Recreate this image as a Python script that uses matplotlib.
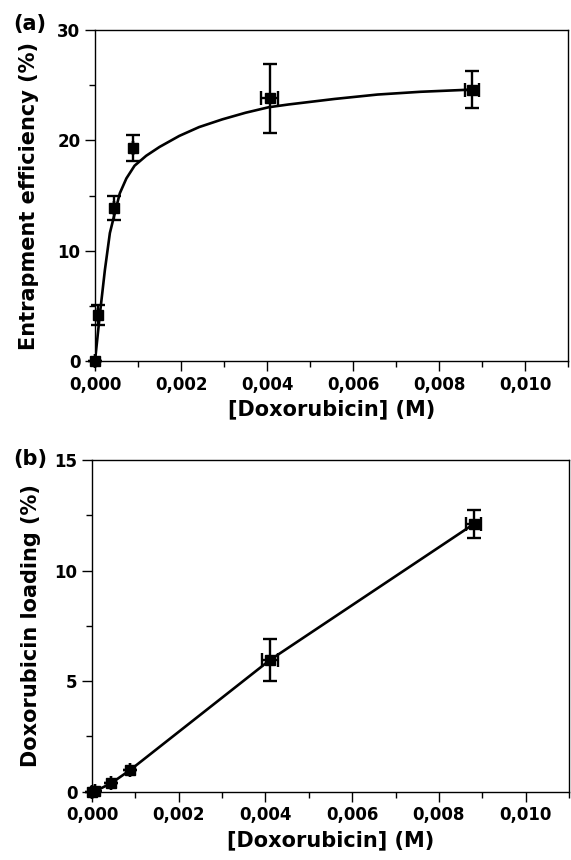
import matplotlib
matplotlib.use("Agg")
import matplotlib.pyplot as plt
from matplotlib.ticker import MultipleLocator, FuncFormatter

plt.rcParams['font.family'] = ['DejaVu Sans']
plt.rcParams['font.weight'] = 'bold'

# (a) entrapment efficiency
dox_a = [0.0, 0.00008, 0.00044, 0.00088, 0.00406, 0.00877]
eff = [0.0, 4.2, 13.9, 19.3, 23.8, 24.6]
eff_err = [0.0, 0.9, 1.1, 1.2, 3.1, 1.7]
dox_a_err = [0.0, 0.0, 0.0, 0.0, 0.00019, 0.00017]

# fitted saturation curve, sampled along its length
fit_x = [0.0, 0.000115, 0.00023, 0.000346, 0.00046, 0.000577, 0.00073, 0.00092,
         0.00119, 0.0015, 0.00196, 0.00242, 0.00296, 0.0035, 0.00404, 0.0045,
         0.00557, 0.00657, 0.00757, 0.00877]
fit_y = [0.0, 4.3, 8.25, 11.6, 13.4, 15.2, 16.55, 17.7,
         18.6, 19.4, 20.4, 21.2, 21.9, 22.5, 23.0, 23.25,
         23.75, 24.15, 24.4, 24.6]

# (b) doxorubicin loading
dox_b = [0.0, 0.00008, 0.00044, 0.00088, 0.0041, 0.0088]
load = [0.0, 0.03, 0.38, 0.98, 5.95, 12.1]
load_err = [0.0, 0.0, 0.0, 0.0, 0.95, 0.64]
dox_b_err = [0.0, 0.0, 0.0, 0.0, 0.00019, 0.00017]

comma = FuncFormatter(lambda v, p: f"{v:.3f}".replace('.', ','))

fig = plt.figure(figsize=(5.71, 8.6), dpi=100)
ax1 = fig.add_axes([95 / 571, 499 / 860, 473 / 571, 331 / 860])
ax2 = fig.add_axes([92 / 571, 68.3 / 860, 477 / 571, 331.7 / 860])


def style(ax, ymax, ymaj):
    ax.set_xlim(0, 0.011)
    ax.set_ylim(0, ymax)
    ax.xaxis.set_major_locator(MultipleLocator(0.002))
    ax.xaxis.set_minor_locator(MultipleLocator(0.001))
    ax.yaxis.set_major_locator(MultipleLocator(ymaj))
    ax.yaxis.set_minor_locator(MultipleLocator(ymaj / 2))
    ax.xaxis.set_major_formatter(comma)
    ax.tick_params(which='major', direction='out', length=7, width=1,
                   labelsize=12, top=False, right=False)
    ax.tick_params(which='minor', direction='out', length=4, width=1,
                   top=False, right=False)
    for lab in ax.get_xticklabels() + ax.get_yticklabels():
        lab.set_fontweight('bold')
    for s in ax.spines.values():
        s.set_linewidth(1)
    ax.set_xlabel('[Doxorubicin] (M)', fontsize=15, fontweight='bold', labelpad=4)


ax1.plot(fit_x, fit_y, color='black', lw=1.9, zorder=2)
ax1.errorbar(dox_a, eff, yerr=eff_err, xerr=dox_a_err, fmt='s', color='black',
             ms=7.5, capsize=5, elinewidth=1.7, capthick=1.7, zorder=3, clip_on=False)
style(ax1, 30, 10)
ax1.set_ylabel('Entrapment efficiency (%)', fontsize=15, fontweight='bold', labelpad=13)
fig.text(13 / 571, 1 - 24 / 860, '(a)', fontsize=15, fontweight='bold', va='center')

ax2.errorbar(dox_b, load, yerr=load_err, xerr=dox_b_err, fmt='s-', color='black',
             ms=7.5, lw=1.9, capsize=5, elinewidth=1.7, capthick=1.7, clip_on=False)
style(ax2, 15, 5)
ax2.set_ylabel('Doxorubicin loading (%)', fontsize=15, fontweight='bold', labelpad=10)
fig.text(13 / 571, 1 - 459 / 860, '(b)', fontsize=15, fontweight='bold', va='center')

fig.savefig('out.png', dpi=100)
